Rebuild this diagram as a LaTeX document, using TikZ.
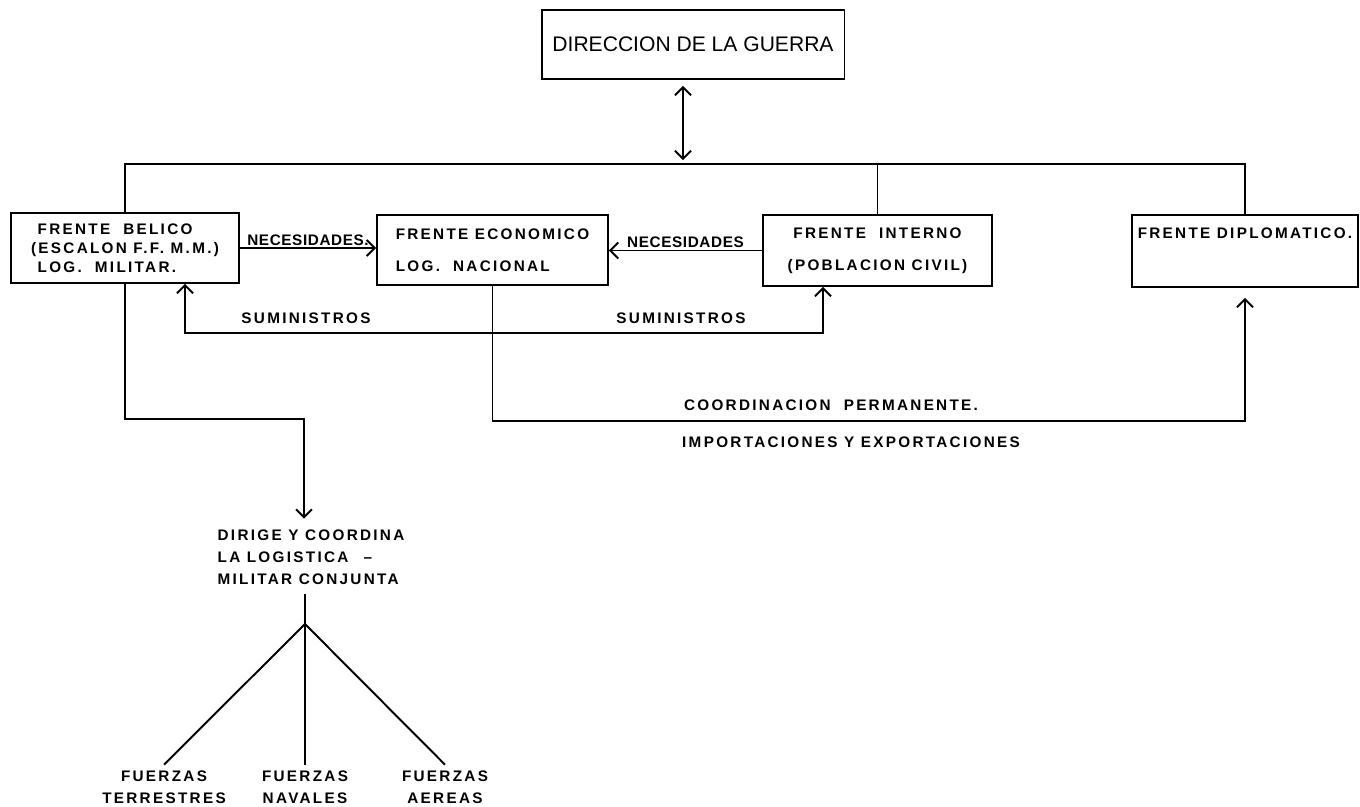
\documentclass[tikz,border=0pt]{standalone}
\usepackage{fontspec}
\newfontfamily\lettering[LetterSpace=15]{Liberation Sans}
\newfontfamily\narrowlettering[LetterSpace=4]{Liberation Sans}
\newfontfamily\titlefont{Liberation Sans}
\usetikzlibrary{arrows.meta}

\begin{document}
\begin{tikzpicture}[x=0.02cm,y=-0.02cm,line width=1.1pt,
  >={Straight Barb[length=1.6mm,width=3.2mm]},
  frente/.style={draw,inner sep=0pt,align=left,font=\lettering\bfseries\fontsize{8.7}{18}\selectfont},
  lbl/.style={inner sep=1pt,font=\lettering\bfseries\fontsize{8.7}{12.5}\selectfont},
  need/.style={lbl,font=\narrowlettering\bfseries\fontsize{8.7}{12.5}\selectfont}]

\useasboundingbox (0,0) rectangle (1360,806);

\node[frente,font=\titlefont\fontsize{12}{14}\selectfont,minimum width=6.06cm,minimum height=1.38cm] (guerra) at (693,44.5) {DIRECCION DE LA GUERRA};
\node[frente,font=\lettering\bfseries\fontsize{8.7}{10.8}\selectfont,minimum width=4.56cm,minimum height=1.4cm] (belico) at (125,248) {\ FRENTE\ \ BELICO\\(ESCALON F.F. M.M.)\\\ LOG.\ \ MILITAR.};
\node[frente,minimum width=4.62cm,minimum height=1.4cm] (econ) at (492.5,250) {FRENTE ECONOMICO\\LOG.\ \ NACIONAL};
\node[frente,align=center,minimum width=4.58cm,minimum height=1.42cm] (interno) at (877.5,250.5) {FRENTE\ \ INTERNO\\(POBLACION CIVIL)};
\node[frente,align=center,text height=6.3pt,text depth=21pt,minimum width=4.52cm,minimum height=1.44cm] (diplo) at (1245,251) {FRENTE DIPLOMATICO.};

\coordinate (bus) at (683,164);
\draw[<->,shorten <=0.12cm,shorten >=0.08cm] (bus |- guerra.south) -- (bus);
\draw (belico.north) |- (diplo.north |- bus) -- (diplo.north);
\draw (interno.north) -- (interno.north |- bus);

\draw[->] (belico.east) -- (belico.east -| econ.west) node[need,midway,above] {NECESIDADES.};
\draw[->] (interno.west) -- (interno.west -| econ.east) node[need,midway,above] {NECESIDADES};

\coordinate (sum) at (823,333);
\draw[<->] ([xshift=1.2cm]belico.south) |- (sum) -- (sum |- interno.south);
\node[lbl] (sumA) at (306,318) {SUMINISTROS};
\node[lbl] (sumB) at (681,318) {SUMINISTROS};

\coordinate (coord) at (1245,421);
\draw[->,shorten >=0.2cm] (econ.south) |- (coord) -- (diplo.south);
\node[lbl] (perm) at (831,405) {COORDINACION\ \ PERMANENTE.};
\node[lbl] (impex) at (851,442) {IMPORTACIONES Y EXPORTACIONES};

\coordinate (turn) at (304,419);
\node[lbl,align=left,inner sep=0pt] (dirige) at (311,557) {DIRIGE Y COORDINA\\LA LOGISTICA\quad –\\MILITAR CONJUNTA};
\draw[->,shorten >=0.2cm] (belico.south) |- (turn) -- (turn |- dirige.north);

\coordinate (fork) at (305,624);
\draw[shorten <=0.18cm] (fork |- dirige.south) -- (fork);
\foreach \name/\x/\txt in {terrestres/164/TERRESTRES,navales/305/NAVALES,aereas/445/AEREAS}{
    \node[lbl,align=center,inner sep=0pt] (\name) at (\x,787) {FUERZAS\\\txt};
    \draw (fork) -- ([yshift=0.1cm]\name.north);
}

\end{tikzpicture}
\end{document}
